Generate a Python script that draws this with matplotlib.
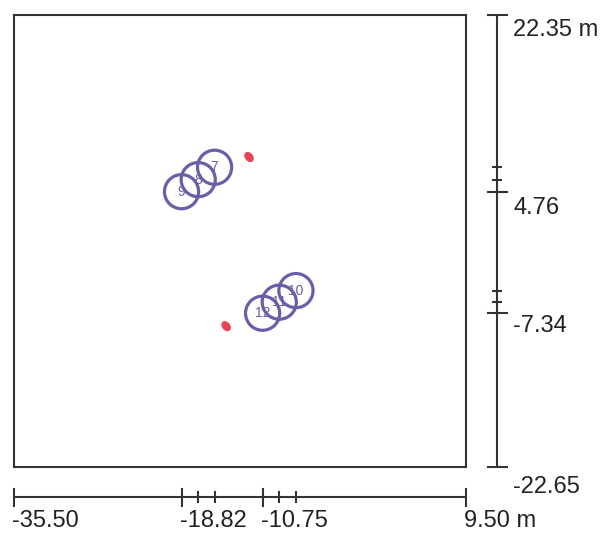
import matplotlib
matplotlib.use('Agg')
import matplotlib.pyplot as plt
from matplotlib.patches import Circle, Ellipse
import matplotlib.transforms as mtransforms

plt.rcParams['font.family'] = ['Liberation Sans', 'DejaVu Sans']

# ---- data ----
x_range = [-35.50, 9.50]
y_range = [-22.65, 22.35]

circle_labels = ['9', '8', '7', '12', '11', '10']
circle_x = [-18.82, -17.16, -15.53, -10.75, -9.09, -7.43]
circle_y = [4.76, 5.96, 7.19, -7.34, -6.24, -5.09]
circle_radius = 1.70

marker_x = [-12.10, -14.38]
marker_y = [8.21, -8.63]

x_major = [-35.50, -18.82, -10.75, 9.50]
x_major_labels = ['-35.50', '-18.82', '-10.75', '9.50 m']
x_minor = [-17.16, -15.53, -9.09, -7.43]

y_major = [22.35, 4.76, -7.34, -22.65]
y_major_labels = ['22.35 m', '4.76', '-7.34', '-22.65']
y_minor = [7.19, 5.96, -5.09, -6.24]

# ---- style ----
W, H, DPI = 603, 535, 100
circle_color = '#6a5ea9'
marker_color = '#e8434f'
line_color = '#333333'
text_color = '#222222'
label_size = 17

fig = plt.figure(figsize=(W / DPI, H / DPI), dpi=DPI)
ax = fig.add_axes([14 / W, (H - 467) / H, 452 / W, 452 / H])
ax.set_xlim(*x_range)
ax.set_ylim(*y_range)
ax.set_aspect('auto')
ax.set_xticks([])
ax.set_yticks([])
for s in ax.spines.values():
    s.set_linewidth(1.5)
    s.set_color(line_color)

# circles
for lx, ly, lab in zip(circle_x, circle_y, circle_labels):
    ax.add_patch(Circle((lx, ly), circle_radius, fill=False,
                        edgecolor=circle_color, linewidth=2.3))
    ax.text(lx, ly, lab, ha='center', va='center', fontsize=10,
            color=circle_color)

# red markers
for mx, my in zip(marker_x, marker_y):
    ax.add_patch(Ellipse((mx, my), 1.0, 0.7, angle=-50,
                         facecolor=marker_color, edgecolor=marker_color,
                         linewidth=0.8))

px = 1.0 / DPI  # inches per pixel

def off(dx, dy):
    return mtransforms.ScaledTranslation(dx * px, dy * px, fig.dpi_scale_trans)

# bottom scale bar: y placed 30 px below axes bottom
tb = mtransforms.blended_transform_factory(ax.transData, ax.transAxes)
bar_y_axes = -30 / 452
lw_bar = 1.5
ax.plot(x_range, [bar_y_axes, bar_y_axes], transform=tb, color=line_color,
        lw=lw_bar, clip_on=False, solid_capstyle='butt')
for i, xv in enumerate(x_major):
    half = 8.5 / 452
    ax.plot([xv, xv], [bar_y_axes - half, bar_y_axes + half], transform=tb,
            color=line_color, lw=lw_bar, clip_on=False)
    ax.text(xv, bar_y_axes, x_major_labels[i], transform=tb + off(-2, -13),
            ha='left', va='top', fontsize=label_size, color=text_color)
for xv in x_minor:
    half = 5 / 452
    ax.plot([xv, xv], [bar_y_axes - half, bar_y_axes + half], transform=tb,
            color=line_color, lw=lw_bar, clip_on=False)

# right scale bar: x placed 31 px right of axes right edge
tr = mtransforms.blended_transform_factory(ax.transAxes, ax.transData)
bar_x_axes = 1 + 31 / 452
ax.plot([bar_x_axes, bar_x_axes], y_range, transform=tr, color=line_color,
        lw=lw_bar, clip_on=False, solid_capstyle='butt')
y_label_dy = [-4, -5, -2, -9]
for i, yv in enumerate(y_major):
    half = 9.5 / 452
    ax.plot([bar_x_axes - half, bar_x_axes + half], [yv, yv], transform=tr,
            color=line_color, lw=lw_bar, clip_on=False)
    ax.text(bar_x_axes, yv, y_major_labels[i], transform=tr + off(16, y_label_dy[i]),
            ha='left', va='top', fontsize=label_size, color=text_color)
for yv in y_minor:
    half = 4 / 452
    ax.plot([bar_x_axes - half, bar_x_axes + half], [yv, yv], transform=tr,
            color=line_color, lw=lw_bar, clip_on=False)

fig.savefig('out.png', dpi=DPI, facecolor='white')
